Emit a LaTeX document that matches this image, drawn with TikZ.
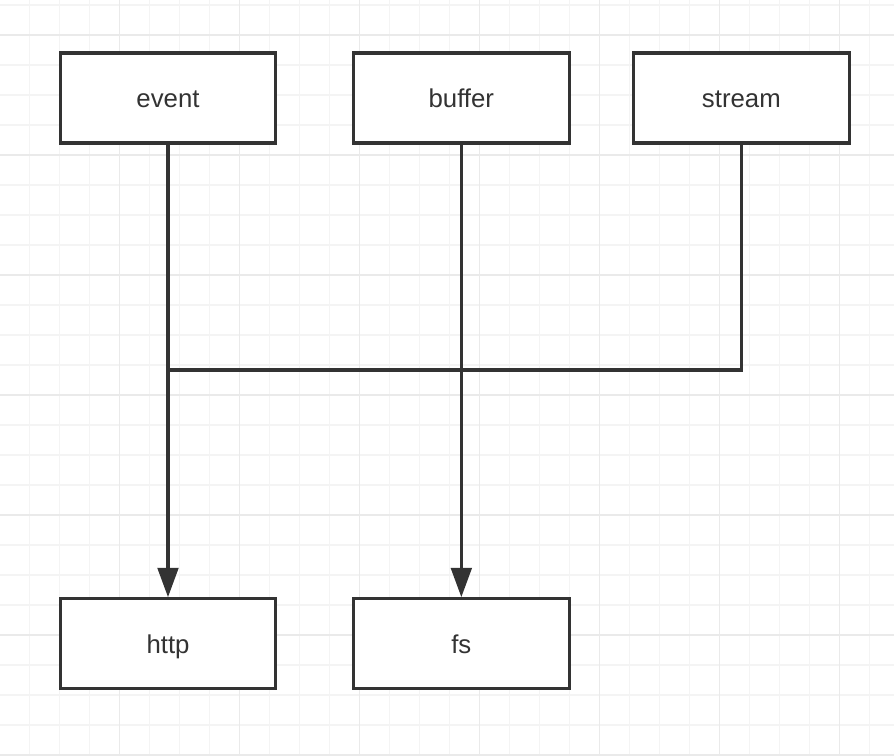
\documentclass[tikz,border=0pt]{standalone}
\usepackage{fontspec}
\setmainfont{Liberation Sans}
\usetikzlibrary{arrows.meta}

\definecolor{ink}{HTML}{333333}
\definecolor{gridminor}{HTML}{F4F4F4}
\definecolor{gridmajor}{HTML}{EAEAEA}

\tikzset{
  box/.style={rectangle, draw=ink, line width=2.6pt, fill=white, text=ink,
    minimum width=6.46cm, minimum height=2.7cm, text height=20pt, text depth=3pt,
    font=\fontsize{22}{26}\selectfont},
  link/.style={draw=ink, line width=2.6pt},
  feed/.style={link, -{Triangle[length=0.88cm, width=0.62cm]}}
}

\begin{document}
\begin{tikzpicture}[x=0.03cm, y=-0.03cm, node distance=8.8cm]
        % Background and grid
        \fill[white] (0,0) rectangle (894,756);
        \useasboundingbox (0,0) rectangle (894,756);
        \foreach \x in {29.5,59.5,...,894} {
          \draw[gridminor, line width=0.9pt] (\x,0) -- (\x,756);
        }
        \foreach \y in {5,35,...,756} {
          \draw[gridminor, line width=0.9pt] (0,\y) -- (894,\y);
        }
        \foreach \x in {119.5,239.5,...,894} {
          \draw[gridmajor, line width=1.3pt] (\x,0) -- (\x,756);
        }
        \foreach \y in {35,155,...,756} {
          \draw[gridmajor, line width=1.3pt] (0,\y) -- (894,\y);
        }

        % Event
        \node[box] (event) at (168,98) {event};

        % Buffer
        \node[box, right of=event] (buffer) {buffer};

        % Stream
        \node[box, right of=buffer, node distance=8.4cm] (stream) {stream};

        % Http
        \node[box, below of=event, node distance=16.37cm] (http) {http};

        % Fs
        \node[box, below of=buffer, node distance=16.37cm] (fs) {fs};

        % Joint of stream into event line
        \coordinate (join) at (event.south |- 0,370);

        % Connections
        \draw[feed] (event) -- (http);
        \draw[feed] (buffer) -- (fs);
        \draw[link] (stream) |- (join);
    \end{tikzpicture}
\end{document}
